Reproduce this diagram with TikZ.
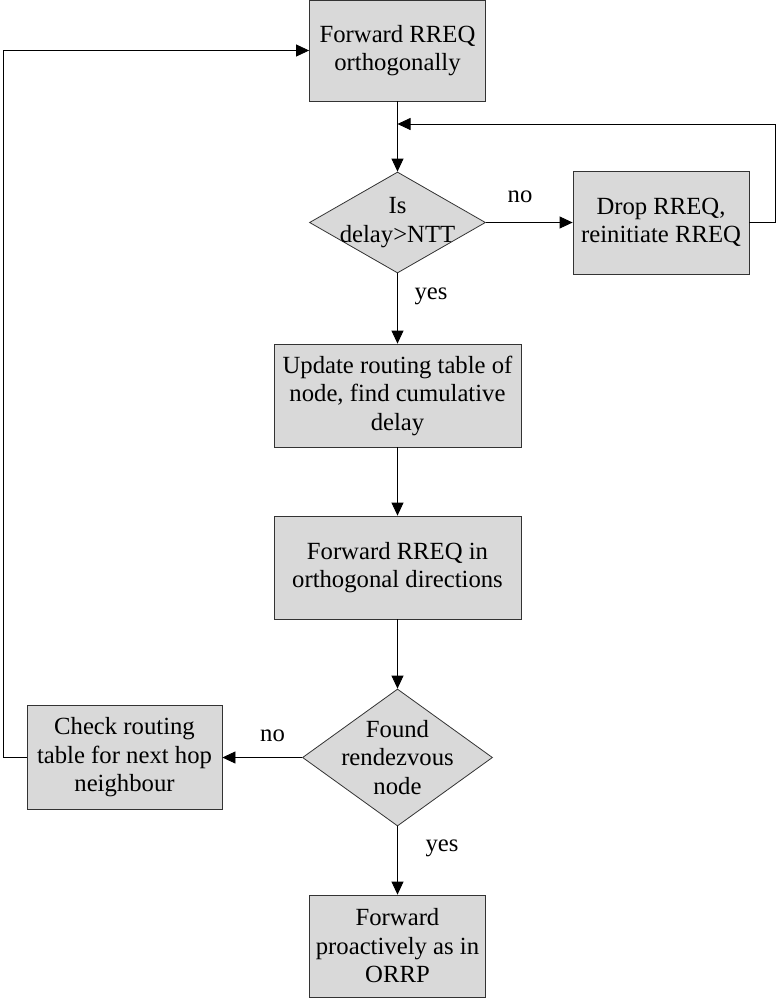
\documentclass[tikz,border=0pt]{standalone}
\usepackage{fontspec}
\setmainfont{Liberation Serif}
\usetikzlibrary{shapes.geometric,arrows.meta}

\begin{document}
\begin{tikzpicture}[x=1pt,y=-1pt,
box/.style = {shape=rectangle, draw=black!80, line width=0.8pt, fill=gray!30,
	align=center, inner sep=2pt},
decision/.style = {shape=diamond, draw=black!80, line width=0.8pt, fill=gray!30,
	inner sep=0pt},
lbl/.style = {align=center, inner sep=0pt},
arr/.style = {line width=0.8pt, -{Triangle[length=13pt,width=12pt]}},
every node/.style = {font=\fontsize{24.7}{28.5}\selectfont}]
\useasboundingbox (0,0) rectangle (777,999);
\node[box, minimum width=176pt, minimum height=101pt] (fwd) at (397.5,50.5) {Forward RREQ\\ orthogonally};
\node[decision, minimum width=176pt, minimum height=101pt,
	label={[lbl]center:{Is\\ delay>NTT}}] (isdelay) at (397.5,222.5) {};
\node[box, minimum width=176pt, minimum height=103pt] (drop) at (661,222.5) {Drop RREQ,\\ reinitiate RREQ};
\node[box, minimum width=247pt, minimum height=103pt] (update) at (397.5,395.5) {Update routing table of\\ node, find cumulative\\ delay};
\node[box, minimum width=247pt, minimum height=103pt] (fwdorth) at (397.5,567.5) {Forward RREQ in\\ orthogonal directions};
\node[decision, minimum width=190pt, minimum height=137pt,
	label={[lbl]center:{Found\\ rendezvous\\ node}}] (found) at (397.5,757.5) {};
\node[box, minimum width=195pt, minimum height=104pt] (check) at (124.5,757.5) {Check routing\\ table for next hop\\ neighbour};
\node[box, minimum width=176pt, minimum height=102pt] (proact) at (397.5,946) {Forward\\ proactively as in\\ ORRP};
% edge labels
\node[lbl] (no1) at (520,197) {no};
\node[lbl] (yes1) at (431,296) {yes};
\node[lbl] (no2) at (272.5,736) {no};
\node[lbl] (yes2) at (442,848) {yes};
% loop points
\coordinate (merge) at (397.5,124);
\coordinate (rt) at (775,124);
\coordinate (lt) at (3,0);
% connectors
\draw[arr] (fwd.south) -- (isdelay.north);
\draw[arr] (isdelay.east) -- (drop.west);
\draw[arr] (drop.east) -| (rt) -- (merge);
\draw[arr] (isdelay.south) -- (update.north);
\draw[arr] (update.south) -- (fwdorth.north);
\draw[arr] (fwdorth.south) -- (found.north);
\draw[arr] (found.west) -- (check.east);
\draw[arr] (check.west) -| (lt |- fwd.west) -- (fwd.west);
\draw[arr] (found.south) -- (proact.north);
\end{tikzpicture}
\end{document}
